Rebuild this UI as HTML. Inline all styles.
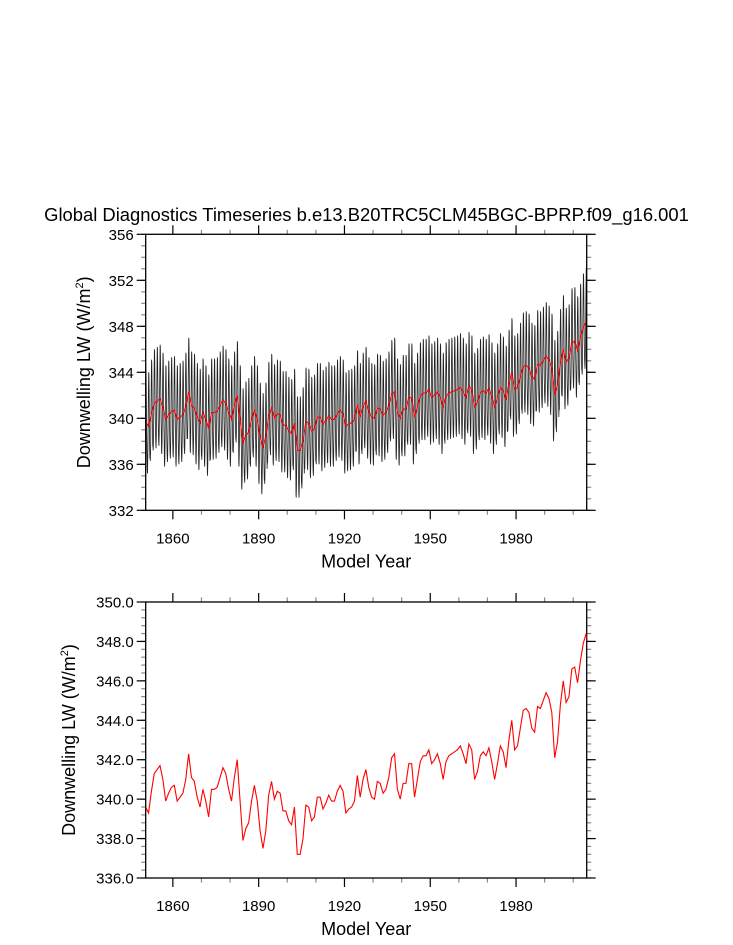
<!DOCTYPE html>
<html><head><meta charset="utf-8"><style>
html,body{margin:0;padding:0;background:#fff;}
svg{display:block;font-family:"Liberation Sans",sans-serif;}
</style></head><body>
<svg id="chart" width="733" height="945" viewBox="0 0 733 945" xmlns="http://www.w3.org/2000/svg">
<defs>
<clipPath id="clipTop"><rect x="145.7" y="234.3" width="441" height="276"/></clipPath>
<clipPath id="clipBot"><rect x="145.7" y="602" width="441" height="276"/></clipPath>
</defs>
<text x="366.5" y="221" font-size="18.4" text-anchor="middle">Global Diagnostics Timeseries b.e13.B20TRC5CLM45BGC-BPRP.f09_g16.001</text>
<g id="topPlot"></g>
<g id="botPlot"></g>
</svg>
<script>
const years = [];
for (let y = 1850; y <= 2005; y++) years.push(y);
const annualMean = [
339.6,339.3,340.4,341.3,341.5,341.7,341.0,339.9,340.3,340.6,
340.7,339.9,340.1,340.3,341.0,342.3,341.1,340.9,340.1,339.6,
340.5,339.9,339.1,340.5,340.5,340.6,341.1,341.6,341.3,340.5,
339.9,341.1,342.0,339.9,337.9,338.5,338.8,339.9,340.7,339.9,
338.4,337.5,338.4,340.2,340.9,340.0,340.4,340.3,339.4,339.4,
338.9,338.7,339.6,337.2,337.2,338.0,339.7,339.6,338.9,339.1,
340.1,340.1,339.5,339.8,340.2,339.9,339.9,340.4,340.7,340.4,
339.3,339.5,339.6,339.9,341.2,340.1,341.0,341.5,340.6,340.1,
340.0,340.9,340.8,340.3,340.5,341.1,342.1,342.3,340.5,340.0,
340.8,340.8,341.8,341.8,340.1,341.0,341.9,342.2,342.2,342.5,
341.8,342.0,342.3,341.8,341.0,341.9,342.2,342.3,342.4,342.5,
342.7,342.3,341.8,342.8,342.5,341.0,341.4,342.2,342.4,342.2,
342.6,341.9,341.0,341.8,342.7,342.4,341.6,343.0,344.0,342.5,
342.7,343.6,344.5,344.6,344.4,343.6,343.4,344.7,344.6,345.0,
345.4,345.1,344.4,342.1,342.9,344.8,346.0,344.9,345.2,346.6,
346.7,345.9,347.0,347.9,348.4,347.0];
const monthlyClimAnomaly = [-3.8,-4.1,-3.2,-1.5,1.0,3.2,4.7,4.5,2.6,0.0,-1.6,-2.8];
const topYTicks = [332,336,340,344,348,352,356];
const botYTicks = [336,338,340,342,344,346,348,350];
const xTickLabels = [1860,1890,1920,1950,1980];

const NS = "http://www.w3.org/2000/svg";
const L = 145.7, R = 586.7;
const xMin = 1850.5, xMax = 2004.7;
function xs(t){ return L + (t - xMin) / (xMax - xMin) * (R - L); }
function mk(tag, attrs, parent){ const e = document.createElementNS(NS, tag); for (const k in attrs) e.setAttribute(k, attrs[k]); parent.appendChild(e); return e; }

function drawAxes(g, top, bot, yMin, yMax, yTicks, yMinorStep, fmt, yTitleX){
  const ys = v => bot - (v - yMin) / (yMax - yMin) * (bot - top);
  for (let yr = 1850; yr <= 2000; yr += 10) {
    const x = xs(yr); if (x < L - 0.1 || x > R + 0.1) continue;
    const major = (yr - 1860) % 30 === 0;
    const len = major ? 9 : 4.5;
    const c = major ? "#000" : "#888";
    const t1 = mk("line", {x1:x, x2:x, y1:bot, y2:bot+len, stroke:c, "stroke-width":1.2}, g);
    
    
    const t2 = mk("line", {x1:x, x2:x, y1:top, y2:top-len, stroke:c, "stroke-width":1.2}, g);
    
    
  }
  xTickLabels.forEach(yr => {
    const tx = mk("text", {x:xs(yr), y:bot+33, "font-size":15, "text-anchor":"middle"}, g);
    tx.textContent = yr;
    
    
  });
  for (let v = yMin; v <= yMax + 1e-6; v += yMinorStep) {
    const y = ys(v);
    const lm = mk("line", {x1:L-4.5, x2:L, y1:y, y2:y, stroke:"#888", "stroke-width":1.2}, g);
    
    
    const rm = mk("line", {x1:R, x2:R+4.5, y1:y, y2:y, stroke:"#888", "stroke-width":1.2}, g);
    
    
  }
  yTicks.forEach(v => {
    const y = ys(v);
    const lt = mk("line", {x1:L-9, x2:L, y1:y, y2:y, stroke:"#000", "stroke-width":1.2}, g);
    
    
    const rt = mk("line", {x1:R, x2:R+9, y1:y, y2:y, stroke:"#000", "stroke-width":1.2}, g);
    
    
    const tx = mk("text", {x:L-12, y:y+5.5, "font-size":15, "text-anchor":"end"}, g);
    tx.textContent = fmt(v);
    
    
  });
  const fr = mk("rect", {x:L, y:top, width:R-L, height:bot-top, fill:"none", stroke:"#000", "stroke-width":1.3}, g);
  
  
  const xt = mk("text", {x:(L+R)/2, y:bot+57, "font-size":18, "text-anchor":"middle"}, g);
  xt.textContent = "Model Year";
  
  
  const cy = (top+bot)/2;
  const yt = mk("text", {x:0, y:0, "font-size":18, "text-anchor":"middle", transform:`translate(${yTitleX},${cy}) rotate(-90)`}, g);
  yt.innerHTML = 'Downwelling LW (W/m<tspan font-size="11" dy="-7">2</tspan><tspan dy="7">)</tspan>';
  
  
  return ys;
}

const gT = document.getElementById("topPlot");
const ysT = (function(){ const top=234.3, bot=510.3; return v => bot - (v-332)/(356-332)*(bot-top); })();
let mPts = [];
years.forEach((yr, i) => {
  monthlyClimAnomaly.forEach((a, m) => {
    mPts.push(xs(yr + (m + 0.5)/12).toFixed(2) + "," + ysT(annualMean[i] + a).toFixed(2));
  });
});
const mLine = mk("polyline", {points:mPts.join(" "), fill:"none", stroke:"#222", "stroke-width":0.8, "clip-path":"url(#clipTop)"}, gT);


const aTop = mk("polyline", {points:years.map((yr,i)=>xs(yr+0.5).toFixed(2)+","+ysT(annualMean[i]).toFixed(2)).join(" "), fill:"none", stroke:"#ff0000", "stroke-width":1.1, "clip-path":"url(#clipTop)"}, gT);


drawAxes(gT, 234.3, 510.3, 332, 356, topYTicks, 1, v => String(v), 90);

const gB = document.getElementById("botPlot");
const ysB = drawAxes(gB, 602, 878, 336, 350, botYTicks, 0.4, v => v.toFixed(1), 75);
const aBot = mk("polyline", {points:years.map((yr,i)=>xs(yr+0.5).toFixed(2)+","+ysB(annualMean[i]).toFixed(2)).join(" "), fill:"none", stroke:"#ff0000", "stroke-width":1.1, "clip-path":"url(#clipBot)"}, gB);


</script>
</body></html>
